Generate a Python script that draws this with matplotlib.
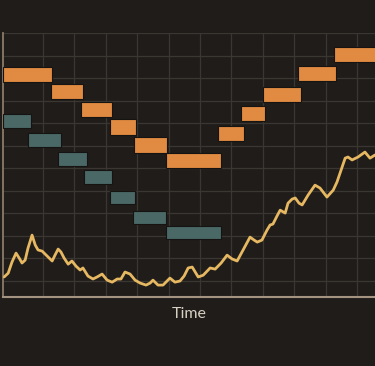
import matplotlib.pyplot as plt
from matplotlib.patches import Rectangle

# orange steps: start, end, level
orange_start = [-0.27, 1.25, 2.21, 3.13, 3.90, 4.92, 6.57, 7.30, 8.00, 9.12, 10.26]
orange_end = [1.29, 2.27, 3.20, 3.96, 4.95, 6.67, 7.40, 8.07, 9.22, 10.33, 11.60]
orange_level = [91.6, 84.0, 76.0, 68.2, 60.2, 53.3, 65.3, 74.2, 82.7, 92.0, 100.4]

# teal steps
teal_start = [-0.27, 0.52, 1.48, 2.31, 3.13, 3.87, 4.92]
teal_end = [0.62, 1.57, 2.40, 3.20, 3.93, 4.92, 6.67]
teal_level = [70.9, 62.4, 54.0, 46.0, 36.9, 28.0, 21.3]

# wavy series
wave_x = [-0.24, -0.11, 0.01, 0.14, 0.24, 0.33, 0.43, 0.52, 0.65, 0.75, 0.84, 0.97,
          1.13, 1.29, 1.38, 1.48, 1.57, 1.67, 1.80, 1.92, 2.05, 2.18, 2.27, 2.43,
          2.59, 2.72, 2.88, 3.04, 3.20, 3.36, 3.48, 3.61, 3.77, 3.93, 4.09, 4.28,
          4.41, 4.50, 4.66, 4.82, 5.04, 5.20, 5.36, 5.49, 5.62, 5.75, 5.94, 6.10,
          6.32, 6.48, 6.67, 6.86, 7.02, 7.18, 7.37, 7.59, 7.72, 7.82, 7.97, 8.13,
          8.23, 8.32, 8.45, 8.55, 8.71, 8.80, 8.93, 9.03, 9.15, 9.25, 9.44, 9.66,
          9.82, 10.04, 10.24, 10.36, 10.49, 10.62, 10.71, 10.84, 11.03, 11.25,
          11.41, 11.57]
wave_y = [1.6, 3.3, 8.2, 12.2, 10.0, 7.8, 9.1, 14.4, 20.2, 15.8, 13.6, 13.1,
          10.9, 8.7, 11.3, 14.0, 12.7, 10.0, 7.3, 8.7, 6.4, 4.7, 5.6, 2.0,
          0.7, 1.6, 2.9, 0.2, -0.7, 0.7, 0.7, 3.8, 2.9, 0.2, -1.1, -2.0,
          -1.1, 0.2, -2.0, -2.0, 1.1, -0.7, -0.2, 2.0, 5.6, 6.0, 1.6, 2.4,
          5.6, 5.1, 7.8, 11.3, 9.6, 8.7, 13.6, 19.3, 18.0, 17.1, 18.0, 22.4,
          24.7, 25.1, 28.7, 31.3, 30.0, 34.4, 36.2, 36.7, 34.4, 33.6, 38.0, 42.4,
          41.1, 37.1, 40.2, 43.8, 49.1, 54.4, 54.9, 53.6, 54.9, 57.1,
          54.4, 55.8]

bg = '#1f1c1a'
orange = '#e08a42'
teal = '#4a6866'
gold = '#e6b862'

fig = plt.figure(figsize=(3.75, 3.66), dpi=100, facecolor=bg)
ax = fig.add_axes([0.0093, 0.1885, 0.9907, 0.7213])
ax.set_facecolor(bg)

def steps(starts, ends, levels, color, h):
    for s, e, v in zip(starts, ends, levels):
        ax.add_patch(Rectangle((s, v - h / 2), e - s, h, facecolor=color,
                               edgecolor='#161412', linewidth=0.8, zorder=3))

steps(orange_start, orange_end, orange_level, orange, 6.8)
steps(teal_start, teal_end, teal_level, teal, 6.0)

ax.plot(wave_x, wave_y, color=gold, lw=2.0, zorder=4,
        solid_joinstyle='round', solid_capstyle='round')

ax.set_xlim(-0.26, 11.57)
ax.set_ylim(-7.3, 110)
ax.set_xticks(range(1, 12))
ax.set_yticks(range(0, 111, 10))
ax.grid(True, color='#3a3632', lw=0.9)
ax.set_axisbelow(True)
ax.tick_params(length=0, labelbottom=False, labelleft=False)
for s in ['top', 'right']:
    ax.spines[s].set_visible(False)
ax.spines['left'].set_color('#8c7c68')
ax.spines['bottom'].set_color('#a39380')
ax.spines['left'].set_linewidth(1.3)
ax.spines['bottom'].set_linewidth(1.5)

ax.set_xlabel('Time', color='#d8d0c2', fontsize=11.5, family='Lato', labelpad=7)

fig.savefig('out.png', dpi=100, facecolor=bg)
